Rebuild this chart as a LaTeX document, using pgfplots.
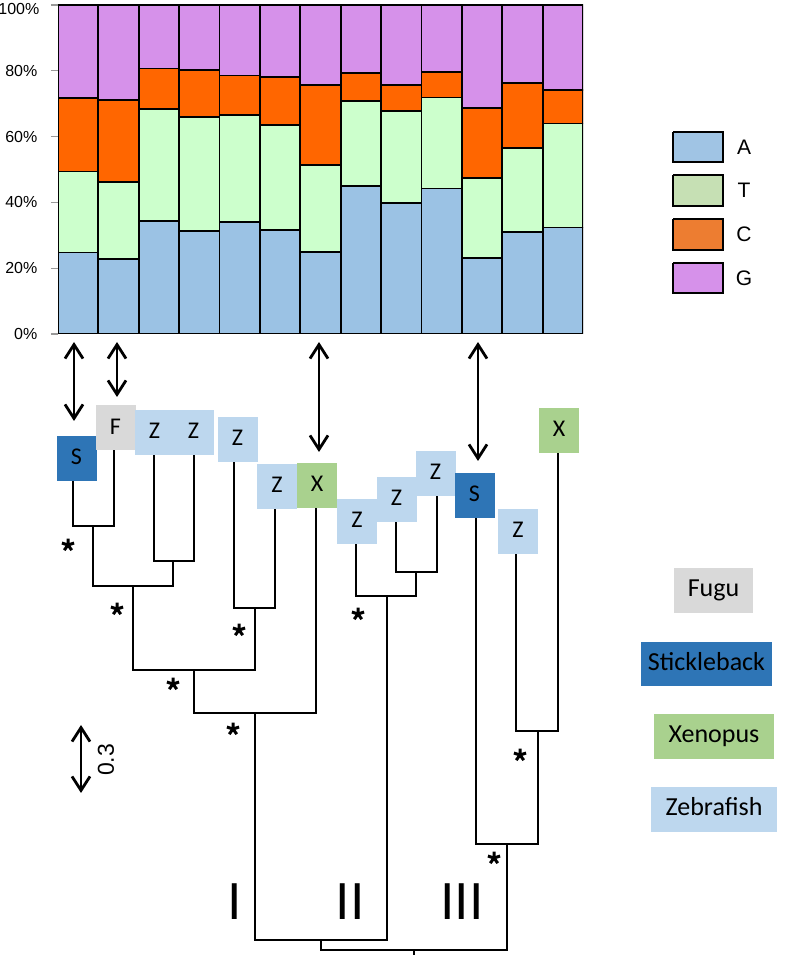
\documentclass[border=0pt]{standalone}
\usepackage{fontspec}
\setmainfont{Liberation Sans}
\newfontfamily\calfont{Carlito}
\usepackage{pgfplots}
\pgfplotsset{compat=1.18}
\usetikzlibrary{arrows.meta}

% bar colours
\definecolor{baseA}{RGB}{155,194,228}
\definecolor{baseT}{RGB}{204,255,204}
\definecolor{baseC}{RGB}{255,102,0}
\definecolor{baseG}{RGB}{214,145,234}
% legend swatches
\definecolor{legA}{RGB}{160,196,228}
\definecolor{legT}{RGB}{198,224,180}
\definecolor{legC}{RGB}{237,125,49}
\definecolor{legG}{RGB}{214,145,234}
% species
\definecolor{sppS}{RGB}{46,117,182}
\definecolor{sppF}{RGB}{217,217,217}
\definecolor{sppX}{RGB}{169,209,142}
\definecolor{sppZ}{RGB}{189,215,238}

\tikzset{
    tree/.style={black, line width=1pt, line join=miter},
    dbl/.style={black, line width=1pt,
        {Straight Barb[length=7pt,width=9pt,line width=1.4pt]}-{Straight Barb[length=7pt,width=9pt,line width=1.4pt]}},
    spp/.style={inner sep=0pt, minimum width=20pt, minimum height=22.5pt,
        font=\calfont\fontsize{12}{12}\selectfont, text height=0.64em, text depth=0pt},
    key/.style={inner sep=0pt, minimum height=22.5pt,
        font=\calfont\fontsize{13}{13}\selectfont, text height=0.64em, text depth=0pt}}

\begin{document}
\begin{tikzpicture}
\useasboundingbox (0,0) rectangle (393.5pt,477.5pt);

% stacked composition bars
\begin{axis}[
    at={(29pt,310.5pt)}, anchor=south west,
    scale only axis, width=262.5pt, height=164.5pt,
    ybar stacked, bar width=1,
    xmin=-0.5, xmax=12.5, ymin=0, ymax=100,
    axis x line=none, axis y line*=left,
    axis line style={gray!80,-},
    ytick={0,20,40,60,80},
    extra y ticks={100},
    extra y tick style={yticklabel style={xshift=1pt, yshift=-2.2pt}},
    yticklabel={\pgfmathprintnumber{\tick}\%},
    /pgf/number format/assume math mode=true,
    tick align=outside, major tick length=3.5pt,
    tick style={gray!80, line width=0.6pt},
    yticklabel style={font=\fontsize{8}{9}\selectfont, xshift=-3.3pt},
    every axis plot/.append style={draw=black, line width=0.9pt}]
\addplot[fill=baseA] coordinates {(0,24.8)(1,22.8)(2,34.4)(3,31.3)(4,34.1)(5,31.5)(6,25.0)(7,45.1)(8,39.9)(9,44.2)(10,23.0)(11,31.0)(12,32.4)};
\addplot[fill=baseT] coordinates {(0,24.6)(1,23.5)(2,34.0)(3,34.6)(4,32.4)(5,32.0)(6,26.4)(7,25.6)(8,27.8)(9,27.7)(10,24.3)(11,25.5)(12,31.6)};
\addplot[fill=baseC] coordinates {(0,22.3)(1,24.8)(2,12.3)(3,14.3)(4,12.1)(5,14.6)(6,24.4)(7,8.6)(8,8.0)(9,7.7)(10,21.3)(11,19.7)(12,10.1)};
\addplot[fill=baseG] coordinates {(0,28.3)(1,28.9)(2,19.3)(3,19.8)(4,21.4)(5,21.9)(6,24.2)(7,20.7)(8,24.3)(9,20.4)(10,31.4)(11,23.8)(12,25.9)};
\end{axis}

% tree, arrows and legends, in picture pixels (y downwards = negative)
\begin{axis}[
    at={(0pt,0pt)}, anchor=south west,
    scale only axis, width=393.5pt, height=477.5pt,
    xmin=0, xmax=787, ymin=-955, ymax=0,
    hide axis, clip=false]

% legend swatches A T C G
\addplot[fill=legA, draw=black, line width=1pt, no markers] coordinates {(673,-132)(723,-132)(723,-162)(673,-162)(673,-132)};
\addplot[fill=legT, draw=black, line width=1pt, no markers] coordinates {(673,-175)(723,-175)(723,-206)(673,-206)(673,-175)};
\addplot[fill=legC, draw=black, line width=1pt, no markers] coordinates {(673,-219)(723,-219)(723,-250)(673,-250)(673,-219)};
\addplot[fill=legG, draw=black, line width=1pt, no markers] coordinates {(673,-263)(723,-263)(723,-293)(673,-293)(673,-263)};
\node[font=\fontsize{10.5}{11}\selectfont] at (axis cs:744,-147) {A};
\node[font=\fontsize{10.5}{11}\selectfont] at (axis cs:744,-190.5) {T};
\node[font=\fontsize{10.5}{11}\selectfont] at (axis cs:744,-234.5) {C};
\node[font=\fontsize{10.5}{11}\selectfont] at (axis cs:744,-278) {G};

% arrows linking bars to leaves
\addplot[dbl, no markers] coordinates {(74,-342)(74,-421)};
\addplot[dbl, no markers] coordinates {(117,-342)(117,-397)};
\addplot[dbl, no markers] coordinates {(319,-342)(319,-452)};
\addplot[dbl, no markers] coordinates {(478,-342)(478,-461)};

% branches
\addplot[tree, no markers] coordinates {(73,-481)(73,-526)(114,-526)(114,-450)};
\addplot[tree, no markers] coordinates {(93,-526)(93,-586)(173,-586)(173,-561)};
\addplot[tree, no markers] coordinates {(154,-455)(154,-561)(194,-561)(194,-455)};
\addplot[tree, no markers] coordinates {(133,-586)(133,-670)(255,-670)(255,-608)};
\addplot[tree, no markers] coordinates {(234,-462)(234,-608)(275,-608)(275,-509)};
\addplot[tree, no markers] coordinates {(194,-670)(194,-713)(316,-713)(316,-508)};
\addplot[tree, no markers] coordinates {(255,-713)(255,-940)(387,-940)(387,-596)};
\addplot[tree, no markers] coordinates {(356,-544)(356,-596)(416,-596)(416,-572)};
\addplot[tree, no markers] coordinates {(396,-522)(396,-572)(437,-572)(437,-496)};
\addplot[tree, no markers] coordinates {(321,-940)(321,-950)(507,-950)(507,-844)};
\addplot[tree, no markers] coordinates {(414,-950)(414,-955)};
\addplot[tree, no markers] coordinates {(476,-518)(476,-844)(538,-844)(538,-731)};
\addplot[tree, no markers] coordinates {(516,-554)(516,-731)(558,-731)(558,-453)};

% support marks
\addplot[only marks, mark=star, mark size=3.2pt, line width=1.5pt, black]
  coordinates {(68,-545)(117,-609)(239,-630)(358,-614)(173,-684)(233,-729)(520,-755)(494,-858)};

% leaves
\node[spp, fill=sppS] at (axis cs:76.5,-458.5) {S};
\node[spp, fill=sppF] at (axis cs:115.5,-428) {F};
\node[spp, fill=sppZ] at (axis cs:154.5,-432.5) {Z};
\node[spp, fill=sppZ] at (axis cs:193.5,-432.5) {Z};
\node[spp, fill=sppZ] at (axis cs:237.5,-439.5) {Z};
\node[spp, fill=sppZ] at (axis cs:277,-486.5) {Z};
\node[spp, fill=sppX] at (axis cs:317,-485.5) {X};
\node[spp, fill=sppZ] at (axis cs:357,-521.5) {Z};
\node[spp, fill=sppZ] at (axis cs:396.5,-499.5) {Z};
\node[spp, fill=sppZ] at (axis cs:435.5,-473.5) {Z};
\node[spp, fill=sppS] at (axis cs:474.5,-495.5) {S};
\node[spp, fill=sppZ] at (axis cs:518,-531.5) {Z};
\node[spp, fill=sppX] at (axis cs:559,-430.5) {X};

% species key
\node[key, fill=sppF, minimum width=39.5pt] at (axis cs:713.5,-590.5) {Fugu};
\node[key, fill=sppS, minimum width=65.5pt, minimum height=22pt] at (axis cs:706.5,-664) {Stickleback};
\node[key, fill=sppX, minimum width=60pt] at (axis cs:714,-736.5) {Xenopus};
\node[key, fill=sppZ, minimum width=63pt] at (axis cs:714,-809.5) {Zebrafish};

% scale bar
\addplot[dbl, no markers] coordinates {(81,-725)(81,-793)};
\node[rotate=90, font=\fontsize{11.5}{12}\selectfont] at (axis cs:106,-760) {0.3};

% clade labels
\node[font=\fontsize{26}{26}\selectfont] at (axis cs:235,-902) {I};
\node[font=\fontsize{26}{26}\selectfont] at (axis cs:350,-902) {II};
\node[font=\fontsize{26}{26}\selectfont] at (axis cs:462,-902) {III};
\end{axis}
\end{tikzpicture}
\end{document}
